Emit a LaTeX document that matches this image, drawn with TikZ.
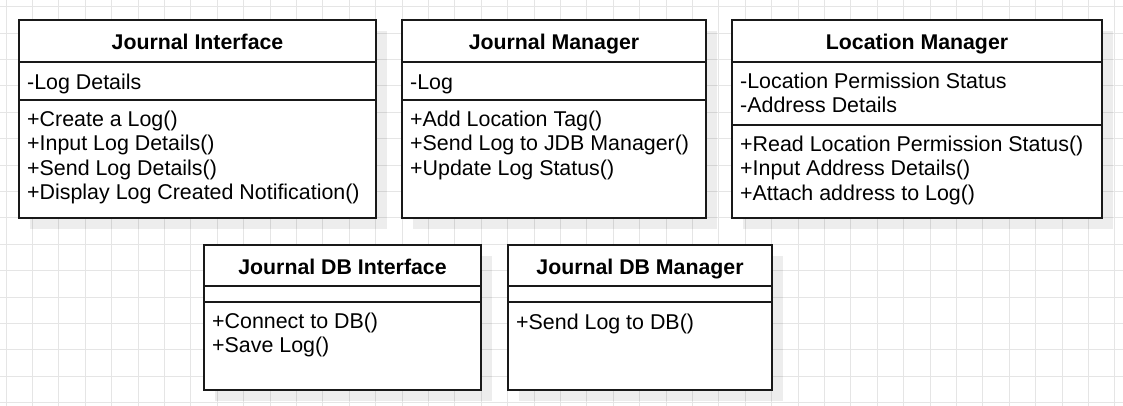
\documentclass[tikz,border=0pt]{standalone}
\usepackage{fontspec}
\setmainfont{Liberation Sans}
\usepackage{tikz}
\usetikzlibrary{positioning, calc, shadows}
\tikzset{
    classbox/.style={
        rectangle,
        draw=black!90,
        line width=1.5pt,
        fill=white,
        inner sep=0pt,
        outer sep=0pt,
        anchor=north west,
        drop shadow={shadow xshift=11pt, shadow yshift=-11pt, fill=black, opacity=0.07}
    },
    classtitle/.style={
        font=\fontsize{21.3pt}{24pt}\selectfont\bfseries,
        anchor=base,
        inner sep=0pt
    },
    members/.style={
        font=\fontsize{21.4pt}{24.4pt}\selectfont,
        align=left,
        anchor=north west,
        inner xsep=8pt,
        inner ysep=0pt,
        execute at begin node=\strut
    },
    divider/.style={
        draw=black!90,
        line width=1.5pt
    },
    gridline/.style={
        draw=black!10,
        line width=1pt
    }
}

\begin{document}
\begin{tikzpicture}[x=1pt, y=1pt, node distance=26pt]

\useasboundingbox (0,0) rectangle (1123,-406);

% Background grid
\foreach \gx in {0,...,42}
    \draw[gridline] ({6+26.4*\gx},0) -- ({6+26.4*\gx},-406);
\foreach \gy in {0,...,15}
    \draw[gridline] (0,{-6.7-26.4*\gy}) -- (1123,{-6.7-26.4*\gy});

% Journal Interface
\node[classbox, minimum width=357pt, minimum height=198pt] (ji) at (19,-20) {};
\node[classtitle] (ji_title) at ($(ji.north)+(0,-29.6)$) {Journal Interface};
\draw[divider] ([yshift=-42pt]ji.north west) -- ([yshift=-42pt]ji.north east);
\draw[divider] ([yshift=-80pt]ji.north west) -- ([yshift=-80pt]ji.north east);
\node[members] (ji_attr) at ([yshift=-52.5pt]ji.north west) {-Log Details};
\node[members] (ji_ops) at ([yshift=-90.5pt]ji.north west) {+Create a Log()\\+Input Log Details()\\+Send Log Details()\\+Display Log Created Notification()};

% Journal Manager
\node[classbox, minimum width=304pt, minimum height=198pt, right=of ji] (jm) {};
\node[classtitle] (jm_title) at ($(jm.north)+(0,-29.6)$) {Journal Manager};
\draw[divider] ([yshift=-42pt]jm.north west) -- ([yshift=-42pt]jm.north east);
\draw[divider] ([yshift=-80pt]jm.north west) -- ([yshift=-80pt]jm.north east);
\node[members] (jm_attr) at ([yshift=-52.5pt]jm.north west) {-Log};
\node[members] (jm_ops) at ([yshift=-90.5pt]jm.north west) {+Add Location Tag()\\+Send Log to JDB Manager()\\+Update Log Status()};

% Location Manager
\node[classbox, minimum width=370pt, minimum height=198pt, right=of jm] (lm) {};
\node[classtitle] (lm_title) at ($(lm.north)+(0,-29.6)$) {Location Manager};
\draw[divider] ([yshift=-42pt]lm.north west) -- ([yshift=-42pt]lm.north east);
\draw[divider] ([yshift=-105pt]lm.north west) -- ([yshift=-105pt]lm.north east);
\node[members] (lm_attr) at ([yshift=-52.5pt]lm.north west) {-Location Permission Status\\-Address Details};
\node[members] (lm_ops) at ([yshift=-115.5pt]lm.north west) {+Read Location Permission Status()\\+Input Address Details()\\+Attach address to Log()};

% Journal DB Interface
\node[classbox, minimum width=277pt, minimum height=145pt] (jdbi) at (204,-245) {};
\node[classtitle] (jdbi_title) at ($(jdbi.north)+(0,-29.1)$) {Journal DB Interface};
\draw[divider] ([yshift=-41pt]jdbi.north west) -- ([yshift=-41pt]jdbi.north east);
\draw[divider] ([yshift=-57pt]jdbi.north west) -- ([yshift=-57pt]jdbi.north east);
\node[members] (jdbi_ops) at ([yshift=-67.5pt]jdbi.north west) {+Connect to DB()\\+Save Log()};

% Journal DB Manager
\node[classbox, minimum width=264pt, minimum height=145pt, right=27pt of jdbi] (jdbm) {};
\node[classtitle] (jdbm_title) at ($(jdbm.north)+(0,-29.1)$) {Journal DB Manager};
\draw[divider] ([yshift=-41pt]jdbm.north west) -- ([yshift=-41pt]jdbm.north east);
\draw[divider] ([yshift=-57pt]jdbm.north west) -- ([yshift=-57pt]jdbm.north east);
\node[members] (jdbm_ops) at ([yshift=-67.5pt]jdbm.north west) {+Send Log to DB()};

\end{tikzpicture}
\end{document}
